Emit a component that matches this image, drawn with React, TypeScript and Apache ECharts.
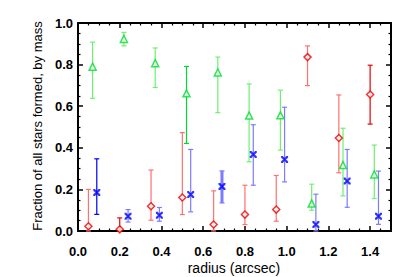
import React, { useEffect, useRef } from "react";
import * as echarts from "echarts";

// Green triangles
const greenX = [0.07, 0.22, 0.37, 0.52, 0.67, 0.82, 0.97, 1.12, 1.27, 1.42];
const greenY = [0.79, 0.923, 0.807, 0.662, 0.762, 0.555, 0.556, 0.132, 0.317, 0.272];
const greenLo = [0.638, 0.89, 0.69, 0.421, 0.569, 0.333, 0.389, 0.1, 0.169, 0.156];
const greenHi = [0.908, 0.955, 0.88, 0.791, 0.836, 0.707, 0.677, 0.225, 0.494, 0.413];

// Red diamonds
const redX = [0.05, 0.2, 0.35, 0.5, 0.65, 0.8, 0.95, 1.1, 1.25, 1.4];
const redY = [0.023, 0.008, 0.119, 0.161, 0.031, 0.079, 0.103, 0.836, 0.447, 0.656];
const redLo = [0.0, 0.0, 0.052, 0.079, 0.0, 0.031, 0.047, 0.699, 0.28, 0.514];
const redHi = [0.2, 0.063, 0.293, 0.473, 0.193, 0.22, 0.267, 0.89, 0.654, 0.797];

// Blue crosses
const blueX = [0.09, 0.24, 0.39, 0.54, 0.69, 0.84, 0.99, 1.14, 1.29, 1.44];
const blueY = [0.185, 0.071, 0.076, 0.175, 0.214, 0.368, 0.344, 0.031, 0.24, 0.071];
const blueLo = [0.08, 0.043, 0.047, 0.092, 0.135, 0.22, 0.236, 0.0, 0.114, 0.032];
const blueHi = [0.347, 0.103, 0.113, 0.392, 0.289, 0.511, 0.595, 0.177, 0.392, 0.288];

const xTickLabels = ["0.0", "0.2", "0.4", "0.6", "0.8", "1.0", "1.2", "1.4"];
const yTickLabels = ["0.0", "0.2", "0.4", "0.6", "0.8", "1.0"];

// emphasised bars (index into each series)
const greenStrong = 3;
const redStrong = [1, 9];
const blueStrong = 0;
const blueThick = 4;

const FONT = "'Liberation Sans', Arial, Helvetica, sans-serif";

const X_PATH =
  "path://M0,0 L2.5,0 L5,3 L7.5,0 L10,0 L10,2.5 L7,5 L10,7.5 L10,10 L7.5,10 L5,7 L2.5,10 L0,10 L0,7.5 L3,5 L0,2.5 Z";

function errSeries(
  xs: number[],
  lo: number[],
  hi: number[],
  light: string,
  strong: string,
  strongIdx: number[],
  thickIdx: number[]
) {
  const data = xs.map((x, i) => [x, lo[i], hi[i], i]);
  return {
    type: "custom",
    xAxisIndex: 0,
    yAxisIndex: 0,
    z: 2,
    encode: { x: 0, y: [1, 2] },
    data,
    renderItem: (params: any, api: any) => {
      const x = api.value(0);
      const l = api.value(1);
      const h = api.value(2);
      const idx = api.value(3);
      const top = api.coord([x, h]);
      const bot = api.coord([x, l]);
      const isStrong = strongIdx.indexOf(idx) >= 0;
      const isThick = thickIdx.indexOf(idx) >= 0;
      const color = isStrong ? strong : light;
      const w = isThick ? 3 : 1.2;
      const cw = 2.5;
      return {
        type: "group",
        children: [
          {
            type: "line",
            shape: { x1: top[0], y1: top[1], x2: bot[0], y2: bot[1] },
            style: { stroke: color, lineWidth: w },
          },
          {
            type: "line",
            shape: { x1: top[0] - cw, y1: top[1], x2: top[0] + cw, y2: top[1] },
            style: { stroke: color, lineWidth: 1.2 },
          },
          {
            type: "line",
            shape: { x1: bot[0] - cw, y1: bot[1], x2: bot[0] + cw, y2: bot[1] },
            style: { stroke: color, lineWidth: 1.2 },
          },
        ],
      };
    },
  };
}

export default function App() {
  const ref = useRef<HTMLDivElement>(null);
  useEffect(() => {
    if (!ref.current) return;
    const chart = echarts.init(ref.current, undefined, { renderer: "svg" });

    const axisCommon = {
      type: "value",
      axisLine: { show: true, onZero: false, lineStyle: { color: "#000", width: 2 } },
      axisTick: { show: true, inside: true, length: 5, lineStyle: { color: "#000", width: 1.5 } },
      minorTick: { show: true, splitNumber: 4, length: 2.5, lineStyle: { color: "#000", width: 1.2 } },
      splitLine: { show: false },
      minorSplitLine: { show: false },
    };

    const option: any = {
      animation: false,
      backgroundColor: "#fff",
      grid: { left: 78, right: 24, top: 23, bottom: 46 },
      xAxis: [
        {
          ...axisCommon,
          position: "bottom",
          min: 0,
          max: 1.5,
          interval: 0.2,
          axisLabel: {
            show: true,
            margin: 14,
            color: "#000",
            fontFamily: FONT,
            fontSize: 13,
            fontWeight: "bold",
            showMaxLabel: false,
            formatter: (v: number) => {
              const i = Math.round(v / 0.2);
              return Math.abs(v - i * 0.2) < 1e-6 && i < xTickLabels.length ? xTickLabels[i] : "";
            },
          },
        },
        {
          ...axisCommon,
          position: "top",
          min: 0,
          max: 1.5,
          interval: 0.2,
          axisLabel: { show: false },
        },
      ],
      yAxis: [
        {
          ...axisCommon,
          position: "left",
          min: 0,
          max: 1.0,
          interval: 0.2,
          axisLabel: {
            show: true,
            margin: 5,
            color: "#000",
            fontFamily: FONT,
            fontSize: 13,
            fontWeight: "bold",
            padding: [0, 0, 8, 0],
            formatter: (v: number) => {
              const i = Math.round(v / 0.2);
              return yTickLabels[i] ?? "";
            },
          },
        },
        {
          ...axisCommon,
          position: "right",
          min: 0,
          max: 1.0,
          interval: 0.2,
          axisLabel: { show: false },
        },
      ],
      graphic: [
        {
          type: "text",
          x: 234,
          y: 268,
          style: {
            text: "radius (arcsec)",
            fill: "#000",
            font: `14px ${FONT}`,
            align: "center",
            verticalAlign: "middle",
          },
        },
        {
          type: "text",
          x: 37,
          y: 126,
          rotation: Math.PI / 2,
          style: {
            text: "Fraction of all stars formed, by mass",
            fill: "#000",
            font: `13px ${FONT}`,
            align: "center",
            verticalAlign: "middle",
          },
        },
      ],
      series: [
        errSeries(greenX, greenLo, greenHi, "#6ef06e", "#00d830", [greenStrong], []),
        errSeries(redX, redLo, redHi, "#ff7070", "#e80000", redStrong, []),
        errSeries(blueX, blueLo, blueHi, "#7b7bff", "#0000ee", [blueStrong], [blueThick]),
        {
          type: "scatter",
          z: 5,
          data: greenX.map((x, i) => [x, greenY[i]]),
          symbol: "triangle",
          symbolSize: [7, 7],
          itemStyle: { color: "#fff", borderColor: "#00dd30", borderWidth: 1.5 },
        },
        {
          type: "scatter",
          z: 5,
          data: redX.map((x, i) => [x, redY[i]]),
          symbol: "diamond",
          symbolSize: [7, 7],
          itemStyle: { color: "#fff", borderColor: "#ee0000", borderWidth: 1.5 },
        },
        {
          type: "scatter",
          z: 5,
          data: blueX.map((x, i) => [x, blueY[i]]),
          symbol: X_PATH,
          symbolSize: [7, 7],
          itemStyle: { color: "#0000ff" },
        },
      ],
    };
    chart.setOption(option);
    return () => chart.dispose();
  }, []);
  return (
    <div
      ref={ref}
      style={{ position: "absolute", left: 0, top: 0, width: 415, height: 277 }}
    />
  );
}
